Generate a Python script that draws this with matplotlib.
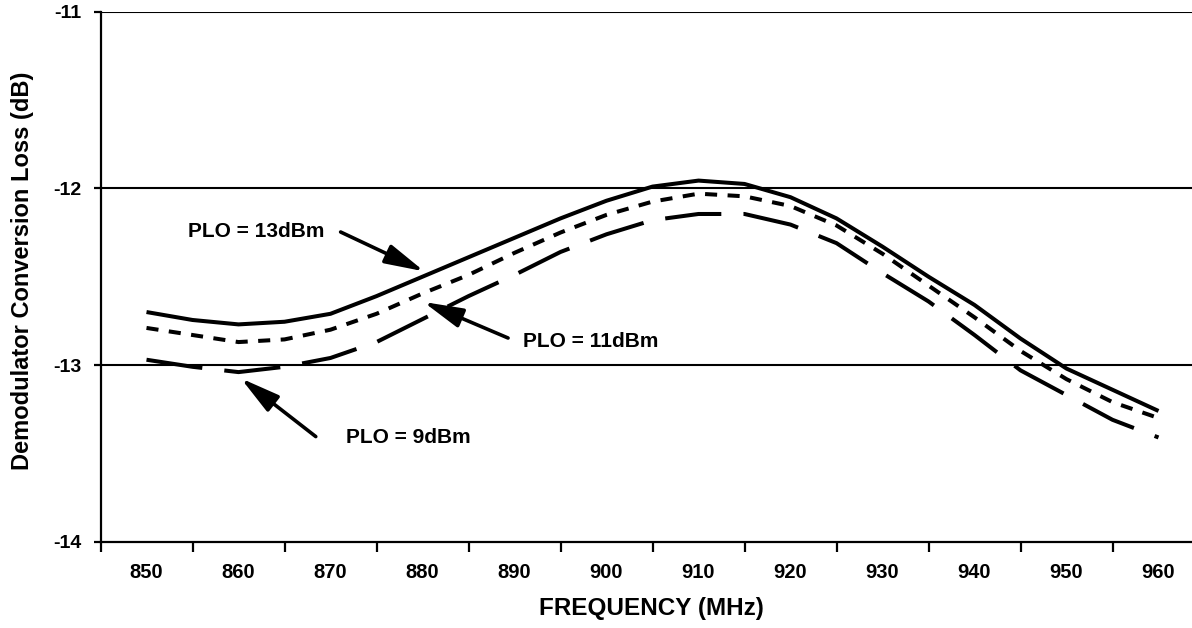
import matplotlib
matplotlib.use("Agg")
import matplotlib.pyplot as plt
import numpy as np

plt.rcParams['font.family'] = ['Liberation Sans', 'DejaVu Sans']
plt.rcParams['font.weight'] = 'bold'

freq = [850, 855, 860, 865, 870, 875, 880, 885, 890, 895, 900, 905,
        910, 915, 920, 925, 930, 935, 940, 945, 950, 955, 960]
plo13 = [-12.70, -12.745, -12.77, -12.755, -12.71, -12.61, -12.50, -12.39,
         -12.28, -12.17, -12.07, -11.99, -11.956, -11.975, -12.05, -12.17,
         -12.33, -12.50, -12.66, -12.85, -13.02, -13.14, -13.26]
plo11 = [-12.79, -12.83, -12.87, -12.855, -12.80, -12.71, -12.595, -12.49,
         -12.365, -12.25, -12.15, -12.075, -12.03, -12.045, -12.10, -12.21,
         -12.37, -12.55, -12.73, -12.92, -13.08, -13.21, -13.30]
plo9 = [-12.97, -13.01, -13.04, -13.01, -12.96, -12.87, -12.74, -12.61,
        -12.49, -12.36, -12.26, -12.18, -12.145, -12.145, -12.205, -12.31,
        -12.48, -12.64, -12.83, -13.03, -13.17, -13.31, -13.41]

xlabels = [str(v) for v in range(850, 961, 10)]
ytick_vals = [-14, -13, -12, -11]
ytick_labels = ['-14', '-13', '-12', '-11']

W, H = 1192, 628
fig = plt.figure(figsize=(W / 100, H / 100), dpi=100)
ax_left, ax_bottom_px, ax_top_px = 100.5, 541.7, 11.7
ax = fig.add_axes([ax_left / W, (H - ax_bottom_px) / H, (W - ax_left) / W,
                   (ax_bottom_px - ax_top_px) / H])

lw = 2.9
ax.plot(freq, plo13, color='black', lw=lw, solid_capstyle='butt', zorder=3)
ax.plot(freq, plo11, color='black', lw=lw, dashes=(3.0, 2.6), zorder=3)
ax.plot(freq, plo9, color='black', lw=lw, dashes=(14.0, 5.5), zorder=3)

ax.set_xlim(845, 845 + (W - ax_left) / 9.2)
ax.set_ylim(-14, -11)

for yv in [-13, -12, -11]:
    ax.axhline(yv, color='black', lw=1.5, zorder=1)

ax.spines['right'].set_visible(False)
ax.spines['top'].set_visible(False)
ax.spines['left'].set_linewidth(1.6)
ax.spines['bottom'].set_linewidth(1.6)

ax.set_xticks(np.arange(845, 964, 10))
ax.set_xticklabels([])
ax.set_xticks([int(s) for s in xlabels], minor=True)
ax.set_xticklabels(xlabels, minor=True)
ax.tick_params(axis='x', which='major', direction='out', length=7, width=1.6)
ax.tick_params(axis='x', which='minor', length=0, pad=15, labelsize=14.5)

ax.set_yticks(ytick_vals)
ax.set_yticklabels(ytick_labels)
ax.tick_params(axis='y', direction='out', length=5, width=1.6, pad=9, labelsize=14)

fig.text(651 / W, 1 - 608 / H, 'FREQUENCY (MHz)', fontsize=17.5, fontweight='bold',
         ha='center', va='center')
fig.text(22.5 / W, 1 - 271 / H, 'Demodulator Conversion Loss (dB)', rotation=90,
         fontsize=17, fontweight='bold', ha='center', va='center')

arrowprops = dict(arrowstyle='-|>,head_length=1.6,head_width=0.4', color='black',
                  lw=2.6, mutation_scale=15, shrinkA=0, shrinkB=0)

ax.text(869.3, -12.245, 'PLO = 13dBm', ha='right', va='center', fontsize=15, fontweight='bold')
ax.annotate('', xy=(880.2, -12.47), xytext=(871.1, -12.247), arrowprops=arrowprops)

ax.text(890.9, -12.864, 'PLO = 11dBm', ha='left', va='center', fontsize=15, fontweight='bold')
ax.annotate('', xy=(880.1, -12.643), xytext=(889.3, -12.847), arrowprops=arrowprops)

ax.text(871.7, -13.41, 'PLO = 9dBm', ha='left', va='center', fontsize=15, fontweight='bold')
ax.annotate('', xy=(860.25, -13.075), xytext=(868.4, -13.405), arrowprops=arrowprops)

fig.savefig('out.png', dpi=100)
